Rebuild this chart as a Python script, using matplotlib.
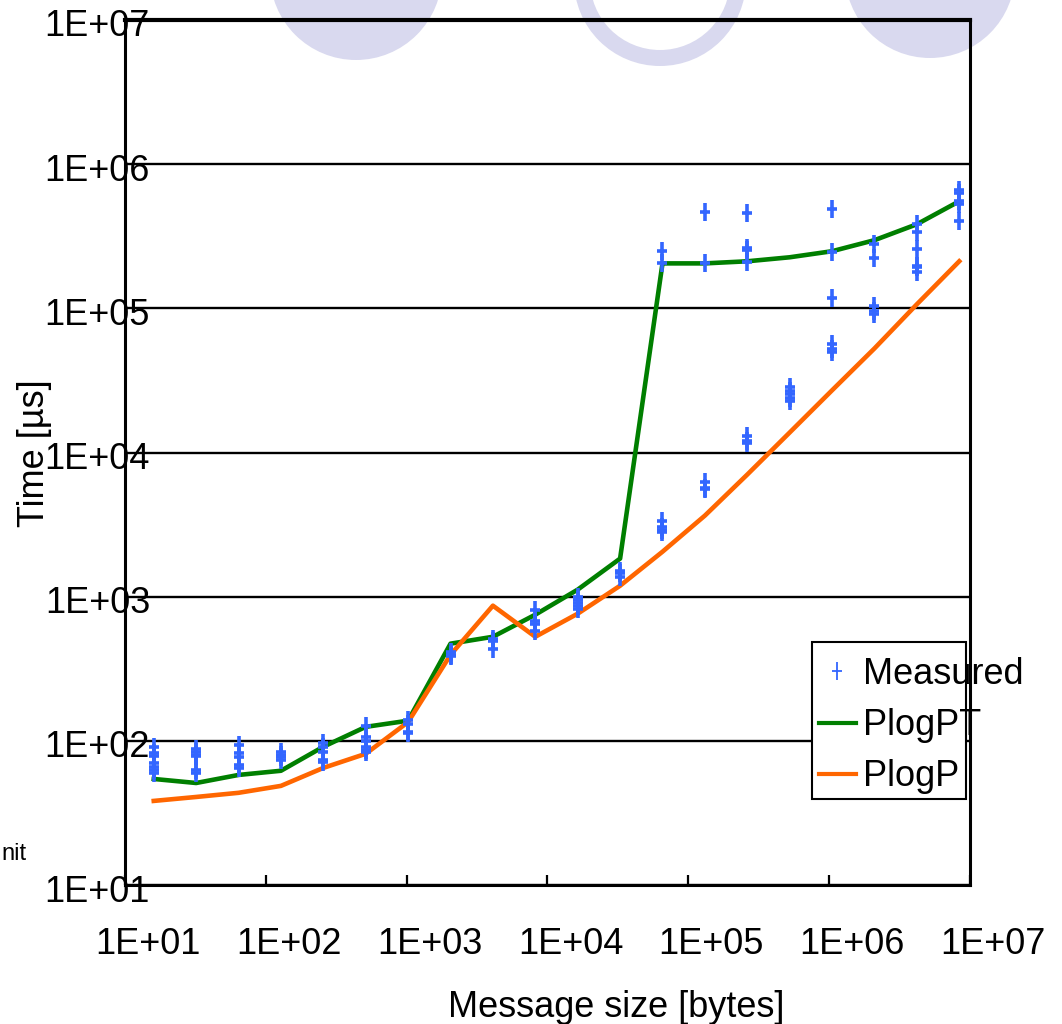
import matplotlib
matplotlib.use('Agg')
import matplotlib.pyplot as plt
from matplotlib.path import Path
from matplotlib.lines import Line2D
from matplotlib.patches import Circle, Rectangle
from matplotlib.transforms import ScaledTranslation

plt.rcParams['font.family'] = ['Liberation Sans', 'DejaVu Sans']

# ---------------- data ----------------
sizes = [16, 32, 64, 128, 256, 512, 1024, 2048, 4096, 8192, 16384, 32768,
         65536, 131072, 262144, 524288, 1048576, 2097152, 4194304, 8388608]

plogpt = [54.4, 51, 58, 62, 91, 125, 138, 472, 527, 750, 1119, 1837,
          205000, 205000, 212000, 226000, 249000, 297000, 383000, 553000]

plogp = [38.3, 40.8, 43.6, 48.7, 64.9, 81.3, 135, 395, 866, 527, 762, 1191,
         2050, 3650, 7030, 13760, 27000, 52700, 106700, 212000]

measured = [
    [91, 82, 79, 70, 66, 63, 60],
    [88, 84, 80, 78, 63, 60],
    [94, 82, 77, 68, 65],
    [84, 80, 77, 74],
    [96, 91, 84, 74, 71],
    [126, 107, 99, 91, 87, 83],
    [140, 131, 116, 113],
    [410, 395, 385],
    [510, 490, 435],
    [810, 680, 650, 580],
    [1000, 950, 900, 860, 820],
    [1500, 1450, 1380],
    [250000, 207500, 3330, 3050, 2920, 2800],
    [467000, 207500, 6220, 5690, 5540],
    [461000, 264000, 254000, 210000, 12970, 11980, 11550],
    [28600, 26650, 25300, 23990, 22720],
    [492000, 245600, 118500, 56200, 51900, 49700],
    [278000, 225000, 103800, 95700, 90800],
    [383000, 339000, 257000, 197000, 192000, 180000],
    [660000, 636000, 556000, 528000, 404000],
]

tick_values = [1e1, 1e2, 1e3, 1e4, 1e5, 1e6, 1e7]
tick_labels = ['1E+01', '1E+02', '1E+03', '1E+04', '1E+05', '1E+06', '1E+07']
legend_labels = ['Measured', 'PlogPT', 'PlogP']

BLUE = '#3366ff'
GREEN = '#007f00'
ORANGE = '#ff6600'
LAV = '#d9d9ef'

# ---------------- figure ----------------
W, H, DPI = 1062, 1024, 100
fig = plt.figure(figsize=(W / DPI, H / DPI), dpi=DPI)
fig.patch.set_facecolor('white')

# decorative background circles (pixel coordinates)
bg = fig.add_axes([0, 0, 1, 1], zorder=-5)
bg.set_xlim(0, W)
bg.set_ylim(H, 0)
bg.axis('off')
bg.add_patch(Circle((356, -26), 86, facecolor=LAV, edgecolor='none'))
bg.add_patch(Circle((660, -20), 78, facecolor='none', edgecolor=LAV, linewidth=16 * 72 / DPI))
bg.add_patch(Circle((930, -27), 85, facecolor=LAV, edgecolor='none'))
bg.text(1, 860, 'nit', ha='left', va='baseline', fontsize=17, color='black')

L, R, T, B = 125, 970, 20, 885
ax = fig.add_axes([L / W, 1 - B / H, (R - L) / W, (B - T) / H])
ax.patch.set_alpha(0)
ax.set_xscale('log')
ax.set_yscale('log')
ax.set_xlim(10, 1e7)
ax.set_ylim(10, 1e7)

# plus marker, taller than wide
plus = Path([(-0.55, 0), (0.55, 0), (0, -1), (0, 1)],
            [Path.MOVETO, Path.LINETO, Path.MOVETO, Path.LINETO])

mx = [s for s, col in zip(sizes, measured) for _ in col]
my = [v for col in measured for v in col]
ax.plot(mx, my, linestyle='none', marker=plus, markersize=13.5,
        markeredgewidth=2.6, color=BLUE, zorder=2.1)
ax.plot(sizes, plogpt, color=GREEN, linewidth=3.3, zorder=2.0)
ax.plot(sizes, plogp, color=ORANGE, linewidth=3.3, zorder=2.0)

# grid
ax.set_axisbelow(True)
ax.yaxis.grid(True, which='major', color='black', linewidth=1.7)
ax.xaxis.grid(False)
ax.minorticks_off()

for s in ['left', 'right', 'bottom']:
    ax.spines[s].set_linewidth(2.2)
ax.spines['top'].set_linewidth(3.0)

ax.set_xticks(tick_values)
ax.set_xticklabels(tick_labels)
ax.set_yticks(tick_values)
ax.set_yticklabels(tick_labels)
ax.tick_params(axis='x', direction='in', length=7, width=1.6, pad=30,
               labelsize=26, colors='black')
ax.tick_params(axis='y', length=0, pad=-18, labelsize=26, colors='black')

for lab in ax.get_xticklabels():
    lab.set_transform(lab.get_transform() + ScaledTranslation(23 / DPI, 0, fig.dpi_scale_trans))
for lab in ax.get_yticklabels():
    lab.set_transform(lab.get_transform() + ScaledTranslation(0, -3 / DPI, fig.dpi_scale_trans))

fig.text(34 / W, 1 - 453 / H, 'Time [µs]', rotation=90, ha='center', va='center', fontsize=26)
fig.text(616 / W, 1 - 1017 / H, 'Message size [bytes]', ha='center', va='baseline', fontsize=26)

# legend box (narrower than its text, as in the original)
box = Rectangle(((812 - L) / (R - L), (B - 799) / (B - T)),
                (966 - 812) / (R - L), (799 - 642) / (B - T),
                transform=ax.transAxes, facecolor='white', edgecolor='black',
                linewidth=1.5, zorder=1.9, clip_on=False)
ax.add_patch(box)

handles = [Line2D([], [], linestyle='none', marker=plus, markersize=13,
                  markeredgewidth=1.3, color=BLUE),
           Line2D([], [], color=GREEN, linewidth=3),
           Line2D([], [], color=ORANGE, linewidth=3)]
leg = ax.legend(handles, legend_labels, loc='upper left',
                bbox_to_anchor=((819 - L) / (R - L), (B - 657) / (B - T)),
                frameon=False, fontsize=26, borderpad=0, borderaxespad=0,
                handlelength=1.02, handletextpad=0.19, labelspacing=0.45)
leg.set_zorder(2.2)

fig.savefig('out.png', dpi=DPI)
